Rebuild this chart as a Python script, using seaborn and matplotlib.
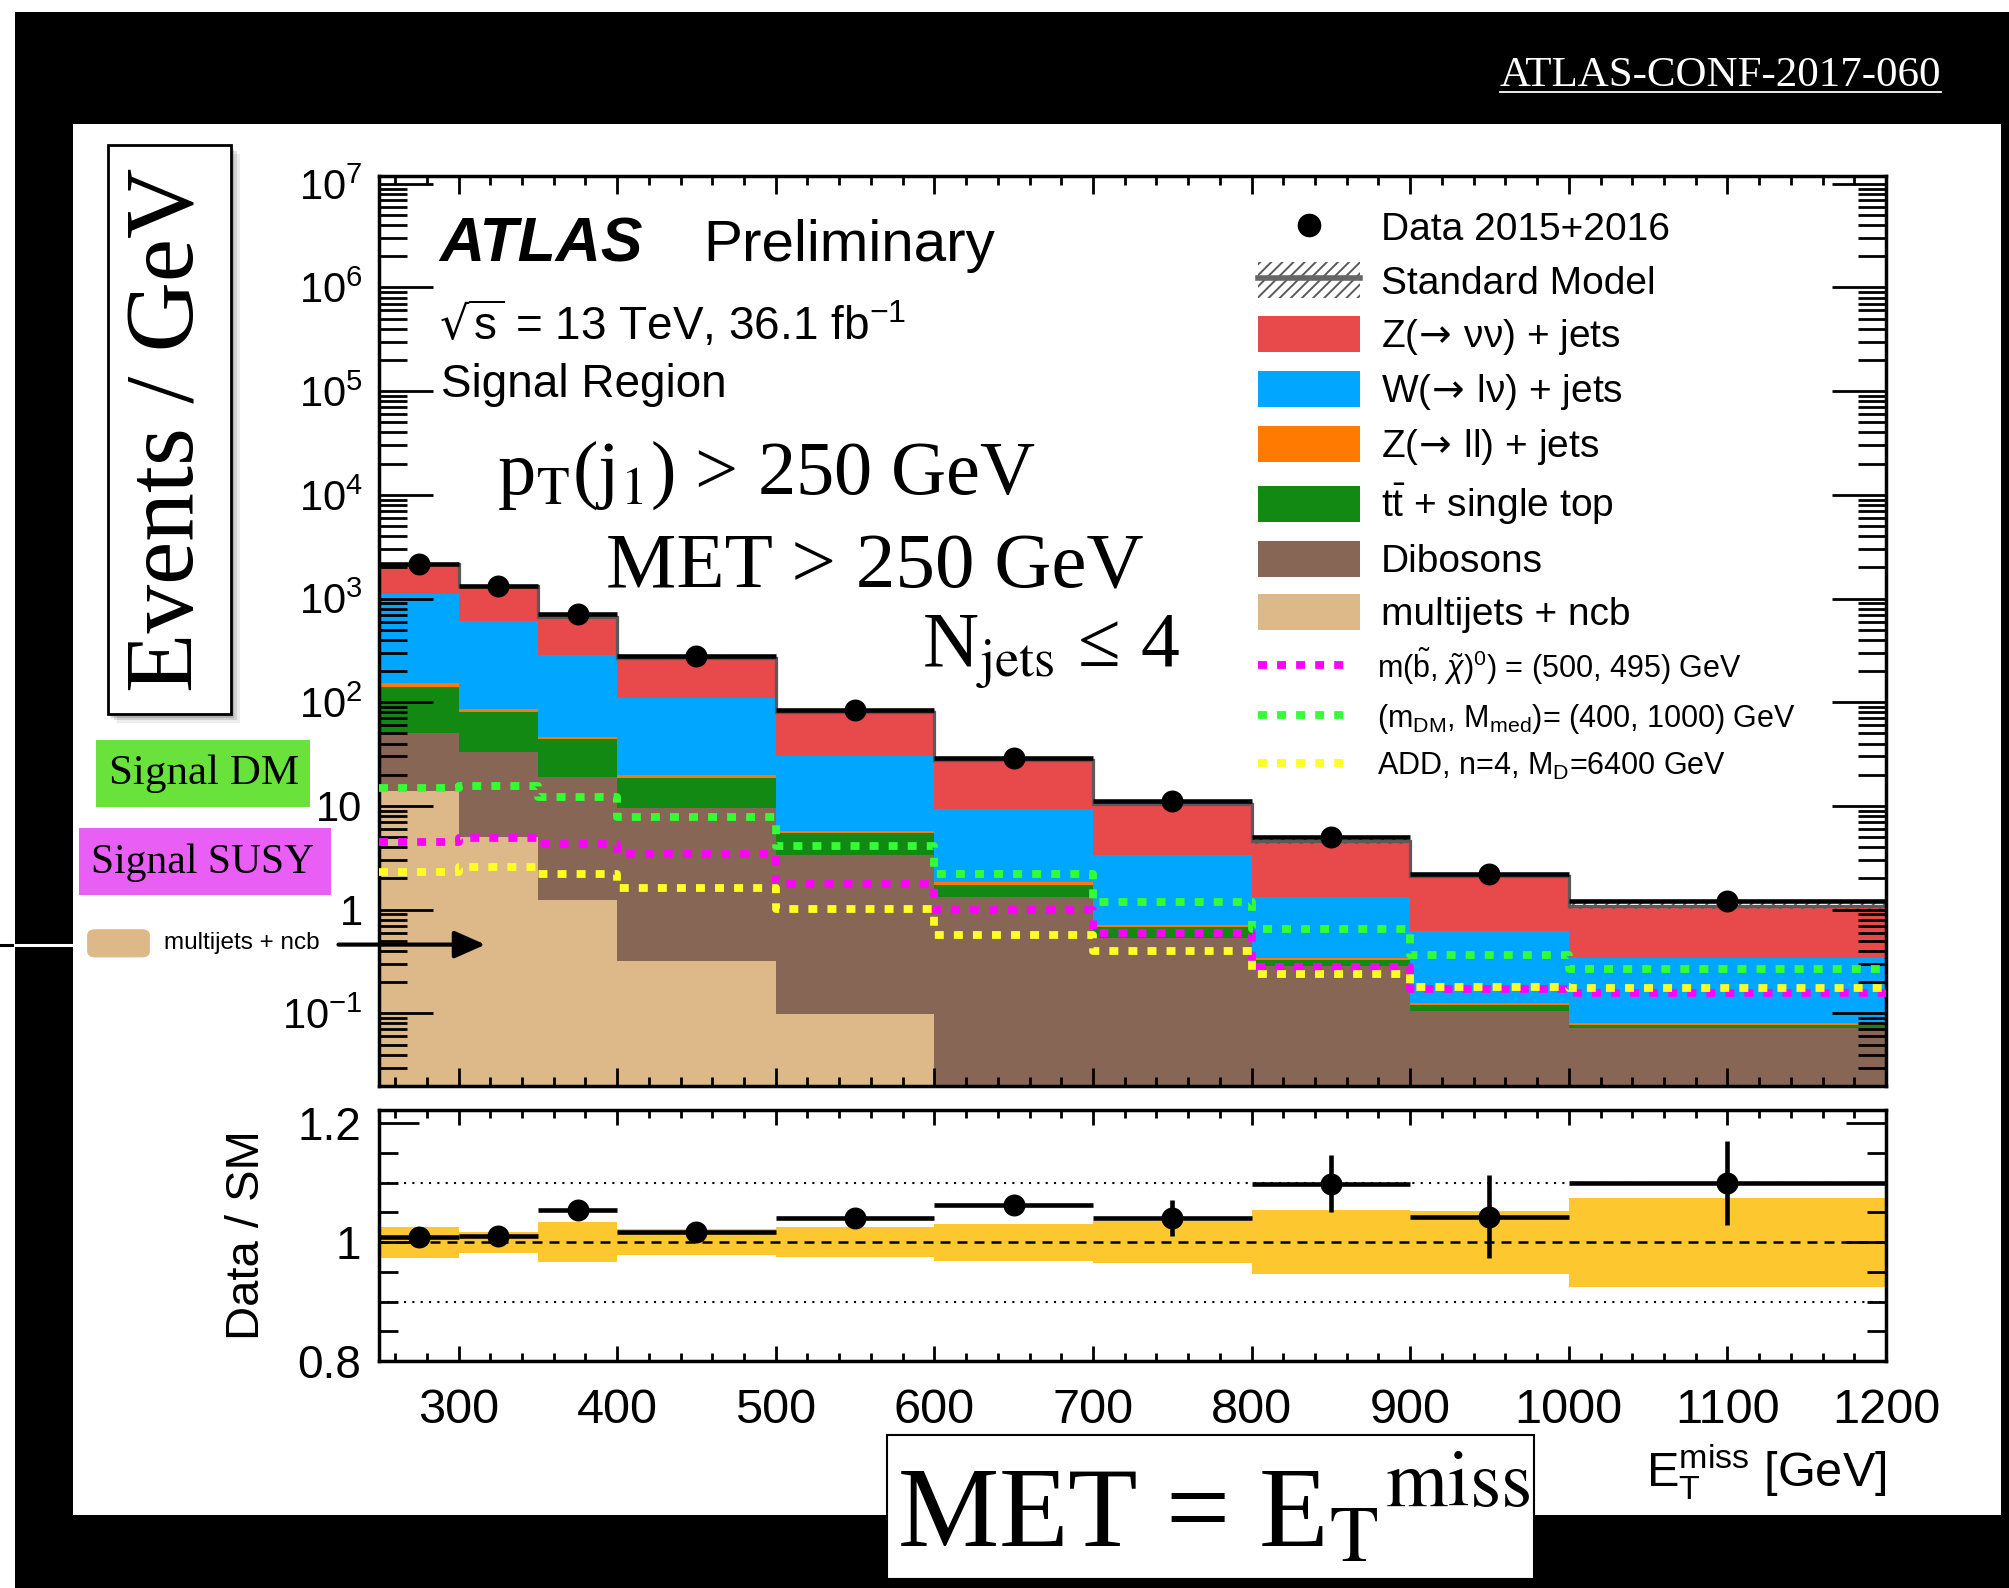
import numpy as np
import matplotlib
matplotlib.use("Agg")
import matplotlib.pyplot as plt
from matplotlib.patches import Rectangle, Patch, FancyArrowPatch, FancyBboxPatch
from matplotlib.lines import Line2D
from matplotlib.ticker import (FixedLocator, FixedFormatter, FuncFormatter,
                               LogLocator, NullFormatter)
import seaborn as sns

# ------------------------- data -------------------------
bin_edges = [250, 300, 350, 400, 500, 600, 700, 800, 900, 1000, 1200]
data_events = np.array([2170, 1330, 705, 277, 84.4, 29.2, 11.2, 4.99, 2.21, 1.20])

z_nunu    = np.array([1033, 706, 380, 158, 50.9, 18.2, 7.1, 3.22, 1.49, 0.75])
w_lnu     = np.array([964, 524, 241, 90.3, 24.4, 7.43, 2.68, 0.99, 0.496, 0.26])
z_ll      = np.array([14, 5.5, 2.5, 1.0, 0.18, 0.09, 0.025, 0.013, 0.005, 0.0035])
ttbar_top = np.array([88.5, 48.1, 24.9, 9.15, 2.17, 0.41, 0.15, 0.037, 0.016, 0.0035])
dibosons  = np.array([36.5, 27.9, 18.0, 9.23, 3.26, 1.33, 0.53, 0.288, 0.105, 0.073])
multijets = np.array([14.0, 5.0, 1.23, 0.32, 0.099, 0, 0, 0, 0, 0])

sig_susy = np.array([4.54, 4.88, 4.33, 3.44, 1.78, 1.00, 0.597, 0.282, 0.172, 0.157])
sig_dm   = np.array([14.9, 15.5, 12.2, 7.84, 4.10, 2.21, 1.18, 0.647, 0.366, 0.267])
sig_add  = np.array([2.30, 2.55, 2.21, 1.62, 1.01, 0.574, 0.396, 0.240, 0.178, 0.175])

ratio_vals = np.array([1.008, 1.010, 1.055, 1.018, 1.040, 1.062, 1.041, 1.098, 1.043, 1.100])
ratio_errs = np.array([0.004, 0.005, 0.007, 0.008, 0.012, 0.015, 0.030, 0.048, 0.070, 0.071])
sm_rel_unc = np.array([0.026, 0.018, 0.034, 0.022, 0.025, 0.031, 0.035, 0.054, 0.053, 0.075])

x_ticks = [300, 400, 500, 600, 700, 800, 900, 1000, 1100, 1200]
x_tick_labels = ["300", "400", "500", "600", "700", "800", "900", "1000", "1100", "1200"]
ratio_ticks = [0.8, 1.0, 1.2]
ratio_tick_labels = ["0.8", "1", "1.2"]
ratio_minor_ticks = [0.85, 0.9, 0.95, 1.05, 1.1, 1.15]

stack_labels = ["multijets + ncb", "Dibosons", r"$\mathregular{t\bar{t}}$ + single top",
                r"Z($\!\rightarrow\!$ ll) + jets", r"W($\!\rightarrow\!$ lν) + jets",
                r"Z($\!\rightarrow\!$ νν) + jets"]
signal_labels = [r"m($\mathregular{\tilde{b}}$, $\tilde{\chi}$)$^{\mathregular{0}}$) = (500, 495) GeV",
                 r"(m$_{\mathregular{DM}}$, M$_{\mathregular{med}}$)= (400, 1000) GeV",
                 r"ADD, n=4, M$_{\mathregular{D}}$=6400 GeV"]

# ------------------------- styles -------------------------
C_RED, C_BLUE, C_ORANGE = "#e8494a", "#00a6ff", "#ff7a00"
C_GREEN, C_BROWN, C_TAN = "#118913", "#876656", "#ddb889"
C_SUSY, C_DM, C_ADD = "#ff00ff", "#33ff33", "#ffff22"
C_BAND = "#fdc82f"
C_SM = "#5a5a5a"
stack_colors = [C_TAN, C_BROWN, C_GREEN, C_ORANGE, C_BLUE, C_RED]

SANS = ["Liberation Sans", "DejaVu Sans"]
SERIF = ["Liberation Serif", "DejaVu Serif"]
plt.rcParams.update({
    "font.family": SANS,
    "mathtext.fontset": "custom",
    "mathtext.rm": "Liberation Sans",
    "mathtext.it": "Liberation Sans:italic",
    "mathtext.bf": "Liberation Sans:bold",
    "mathtext.sf": "Liberation Sans",
    "hatch.linewidth": 1.4,
    "hatch.color": C_SM,
    "axes.linewidth": 2.5,
})

W, H = 2009, 1588
fig = plt.figure(figsize=(W / 100, H / 100), dpi=100)
fig.patch.set_facecolor("white")


def fx(x):
    return x / 1568.0


def fy(y):
    return 1.0 - y / 1239.0


# ---------- background frame ----------
fig.add_artist(Rectangle((fx(12), 0), 1 - fx(12), fy(9), transform=fig.transFigure,
                         facecolor="black", edgecolor="none", zorder=-10))
fig.add_artist(Rectangle((fx(57), fy(1182)), fx(1562) - fx(57), fy(97) - fy(1182),
                         transform=fig.transFigure, facecolor="white", edgecolor="none", zorder=-9))

# ---------- axes ----------
ax = fig.add_axes([fx(296), fy(847), fx(1472) - fx(296), fy(137) - fy(847)])
axr = fig.add_axes([fx(296), fy(1062), fx(1472) - fx(296), fy(866) - fy(1062)])

edges_arr = np.array(bin_edges, dtype=float)
centers = 0.5 * (edges_arr[:-1] + edges_arr[1:])
halfw = 0.5 * np.diff(edges_arr)

ax.set_yscale("log")

# stacked backgrounds (painted from the full stack down)
components = np.vstack([multijets, dibosons, ttbar_top, z_ll, w_lnu, z_nunu])
cumulative = np.cumsum(components, axis=0)
for heights, col in reversed(list(zip(cumulative, stack_colors))):
    sns.histplot(x=centers, weights=heights, bins=bin_edges, element="step", fill=True,
                 color=col, alpha=1.0, linewidth=0, ax=ax, zorder=1)

sm_total = cumulative[-1]
ax.stairs(sm_total * (1 + sm_rel_unc), edges_arr, baseline=sm_total * (1 - sm_rel_unc),
          fill=True, facecolor="none", edgecolor=C_SM, hatch="///", linewidth=0, zorder=2)
ax.stairs(sm_total, edges_arr, baseline=None, color=C_SM, linewidth=2.3, zorder=2.2)

# signals
SIG_LW = 5.6
sig_dash = (0, (1.15, 1.3))
for vals, col in [(sig_susy, C_SUSY), (sig_dm, C_DM), (sig_add, C_ADD)]:
    sns.lineplot(x=edges_arr, y=np.append(vals, vals[-1]), drawstyle="steps-post",
                 color=col, linewidth=SIG_LW, linestyle=sig_dash, estimator=None,
                 errorbar=None, sort=False, ax=ax, zorder=3)

# data
ax.errorbar(centers, data_events, xerr=halfw, fmt="none", ecolor="black",
            elinewidth=3.3, capsize=0, zorder=5)
sns.scatterplot(x=centers, y=data_events, color="black", s=250, marker="o",
                linewidth=0, zorder=6, ax=ax, legend=False)

ax.set_xlim(250, 1200)
ax.set_ylim(0.0201, 1.2e7)
ax.set_xlabel("")
ax.set_ylabel("")


def logfmt(v, pos):
    e = int(np.round(np.log10(v)))
    if e == 0:
        return "1"
    if e == 1:
        return "10"
    return r"$\mathregular{10^{%d}}$" % e


ax.yaxis.set_major_locator(LogLocator(base=10, numticks=30))
ax.yaxis.set_minor_locator(LogLocator(base=10, subs=np.arange(2, 10), numticks=200))
ax.yaxis.set_major_formatter(FuncFormatter(logfmt))
ax.yaxis.set_minor_formatter(NullFormatter())
ax.xaxis.set_major_locator(FixedLocator(x_ticks))
ax.xaxis.set_minor_locator(FixedLocator(np.arange(260, 1200, 20)))
ax.tick_params(axis="both", which="both", direction="in", top=True, right=True,
               labelbottom=False, width=2)
ax.tick_params(axis="x", which="major", length=13)
ax.tick_params(axis="x", which="minor", length=6.5)
ax.tick_params(axis="y", which="major", length=39, labelsize=30, pad=12)
ax.tick_params(axis="y", which="minor", length=20)
ax.set_axisbelow(False)

# legends
leg_handles = [
    Line2D([], [], marker="o", ls="none", color="black", ms=16),
    (Patch(facecolor="white", edgecolor=C_SM, hatch="///", linewidth=0),
     Line2D([], [], color="#666666", lw=4)),
    Patch(facecolor=C_RED, edgecolor="none"),
    Patch(facecolor=C_BLUE, edgecolor="none"),
    Patch(facecolor=C_ORANGE, edgecolor="none"),
    Patch(facecolor=C_GREEN, edgecolor="none"),
    Patch(facecolor=C_BROWN, edgecolor="none"),
    Patch(facecolor=C_TAN, edgecolor="none"),
]
leg_labels = ["Data 2015+2016", "Standard Model"] + stack_labels[::-1]
leg1 = ax.legend(leg_handles, leg_labels, loc="upper left",
                 bbox_to_anchor=(fx(982), fy(163)), bbox_transform=fig.transFigure,
                 frameon=False, fontsize=28, handlelength=2.63, handleheight=1.05,
                 handletextpad=0.53, labelspacing=0.36, borderpad=0, borderaxespad=0)
for t in leg1.get_texts():
    t.set_math_fontfamily("dejavusans")
ax.add_artist(leg1)
sig_handles = [Line2D([], [], color=c, lw=SIG_LW, ls=sig_dash) for c in (C_SUSY, C_DM, C_ADD)]
leg2 = ax.legend(sig_handles, signal_labels, loc="upper left",
                 bbox_to_anchor=(fx(982), fy(503)), bbox_transform=fig.transFigure,
                 frameon=False, fontsize=22, handlelength=3.1, handleheight=1.0,
                 handletextpad=0.8, labelspacing=0.5, borderpad=0, borderaxespad=0)

# ---------- ratio panel ----------
axr.stairs(1 + sm_rel_unc, edges_arr, baseline=1 - sm_rel_unc, fill=True,
           color=C_BAND, linewidth=0, zorder=1)
axr.axhline(1.1, color="black", lw=1.5, ls=(0, (1, 3)), zorder=2)
axr.axhline(0.9, color="black", lw=1.5, ls=(0, (1, 3)), zorder=2)
axr.axhline(1.0, color="black", lw=1.8, ls=(0, (4, 2.8)), zorder=2)
axr.errorbar(centers, ratio_vals, xerr=halfw, yerr=ratio_errs, fmt="none",
             ecolor="black", elinewidth=3.3, capsize=0, zorder=5)
sns.scatterplot(x=centers, y=ratio_vals, color="black", s=250, marker="o",
                linewidth=0, zorder=6, ax=axr, legend=False)
axr.set_xlim(250, 1200)
axr.set_ylim(0.8, 1.2225)
axr.xaxis.set_major_locator(FixedLocator(x_ticks))
axr.xaxis.set_major_formatter(FixedFormatter(x_tick_labels))
axr.xaxis.set_minor_locator(FixedLocator(np.arange(260, 1200, 20)))
axr.yaxis.set_major_locator(FixedLocator(ratio_ticks))
axr.yaxis.set_major_formatter(FixedFormatter(ratio_tick_labels))
axr.yaxis.set_minor_locator(FixedLocator(ratio_minor_ticks))
axr.tick_params(axis="both", which="both", direction="in", top=True, right=True, width=2)
axr.tick_params(axis="x", which="major", length=11, labelsize=35, pad=19)
axr.tick_params(axis="x", which="minor", length=5.5)
axr.tick_params(axis="y", which="major", length=29, labelsize=33, pad=13)
axr.tick_params(axis="y", which="minor", length=14)
axr.set_axisbelow(False)
axr.set_ylabel("Data / SM", fontsize=34, va="center")
axr.yaxis.set_label_coords(-0.088, 0.5)
axr.set_xlabel(r"E$_{\mathregular{T}}^{\mathregular{miss}}$ [GeV]", fontsize=35,
               ha="right", va="baseline")
axr.xaxis.set_label_coords(1.0, -0.50)

# ---------- annotations ----------
def ftxt(x, y, s, **kw):
    return fig.text(fx(x), fy(y), s, **kw)


ftxt(343, 204, "ATLAS", fontsize=45, fontweight="bold", style="italic", va="baseline")
ftxt(549, 204, "Preliminary", fontsize=42, va="baseline")
ftxt(343, 265, r"$\sqrt{\mathregular{s}}$ = 13 TeV, 36.1 fb$^{\mathregular{-1}}$",
     fontsize=33, va="baseline", math_fontfamily="dejavusans")
ftxt(344, 310, "Signal Region", fontsize=33, va="baseline")

ftxt(388, 385, r"p$_{\mathrm{T}}$(j$_{\mathrm{1}}$) > 250 GeV", fontsize=55,
     family=SERIF, math_fontfamily="stix", va="baseline")
ftxt(473, 458, "MET > 250 GeV", fontsize=57, family=SERIF, va="baseline")
ftxt(720, 520, r"N$_{\mathrm{jets}}$ ≤ 4", fontsize=56, family=SERIF,
     math_fontfamily="stix", va="baseline")

# Events / GeV box with shadow
for off, a in [(7, 0.10), (5, 0.18), (3, 0.25)]:
    fig.add_artist(Rectangle((fx(84 + off), fy(557 + off)), fx(180) - fx(84),
                             fy(113) - fy(557), transform=fig.transFigure,
                             facecolor="#555555", alpha=a, edgecolor="none", zorder=1))
fig.add_artist(Rectangle((fx(84), fy(557)), fx(180) - fx(84), fy(113) - fy(557),
                         transform=fig.transFigure, facecolor="white",
                         edgecolor="black", lw=2, zorder=2))
ftxt(133, 335, "Events / GeV", rotation=90, ha="center", va="center", fontsize=70,
     family=SERIF, zorder=3)

# Signal DM / SUSY tags
fig.add_artist(Rectangle((fx(75), fy(630)), fx(242) - fx(75), fy(577) - fy(630),
                         transform=fig.transFigure, facecolor="#6ae23c",
                         edgecolor="none", zorder=2))
ftxt(159, 604, "Signal DM", ha="center", va="center", fontsize=31, family=SERIF, zorder=3)
fig.add_artist(Rectangle((fx(62), fy(698)), fx(258) - fx(62), fy(646) - fy(698),
                         transform=fig.transFigure, facecolor="#e95ff6",
                         edgecolor="none", zorder=2))
ftxt(158, 673, "Signal SUSY", ha="center", va="center", fontsize=30, family=SERIF, zorder=3)

# multijets pointer
fig.add_artist(FancyBboxPatch((fx(68), fy(747)), fx(117) - fx(68), fy(725) - fy(747),
                              boxstyle="round,pad=0,rounding_size=0.004",
                              transform=fig.transFigure, facecolor=C_TAN,
                              edgecolor="none", zorder=2))
ftxt(128, 736, "multijets + ncb", fontsize=17.5, va="center", zorder=3)
fig.add_artist(FancyArrowPatch((fx(262), fy(737)), (fx(381), fy(737)),
                               transform=fig.transFigure,
                               arrowstyle="-|>,head_length=0.95,head_width=0.42",
                               mutation_scale=20, lw=3, color="black", zorder=8))
fig.add_artist(Line2D([0, fx(12)], [fy(737), fy(737)], transform=fig.transFigure,
                      color="black", lw=2.2, zorder=2))
fig.add_artist(Line2D([fx(12), fx(57)], [fy(737), fy(737)], transform=fig.transFigure,
                      color="white", lw=2.2, zorder=2))

# reference in banner
conf = ftxt(1515, 67, "ATLAS-CONF-2017-060", fontsize=31, family=SERIF,
            color="white", ha="right", va="baseline")
fig.canvas.draw()
bb = conf.get_window_extent(renderer=fig.canvas.get_renderer())
fig.add_artist(Line2D([bb.x0 / W, bb.x1 / W], [fy(71.5), fy(71.5)],
                      transform=fig.transFigure, color="white", lw=1.3))

# MET = E_T^miss box
fig.add_artist(Rectangle((fx(692), fy(1232)), fx(1197) - fx(692), fy(1120) - fy(1232),
                         transform=fig.transFigure, facecolor="white",
                         edgecolor="black", lw=1.5, zorder=2))
ftxt(700, 1207, r"MET = E$_{\mathrm{T}}$$^{\mathrm{miss}}$", fontsize=82, family=SERIF,
     math_fontfamily="stix", va="baseline", zorder=3)

fig.savefig("out.png", dpi=100)
